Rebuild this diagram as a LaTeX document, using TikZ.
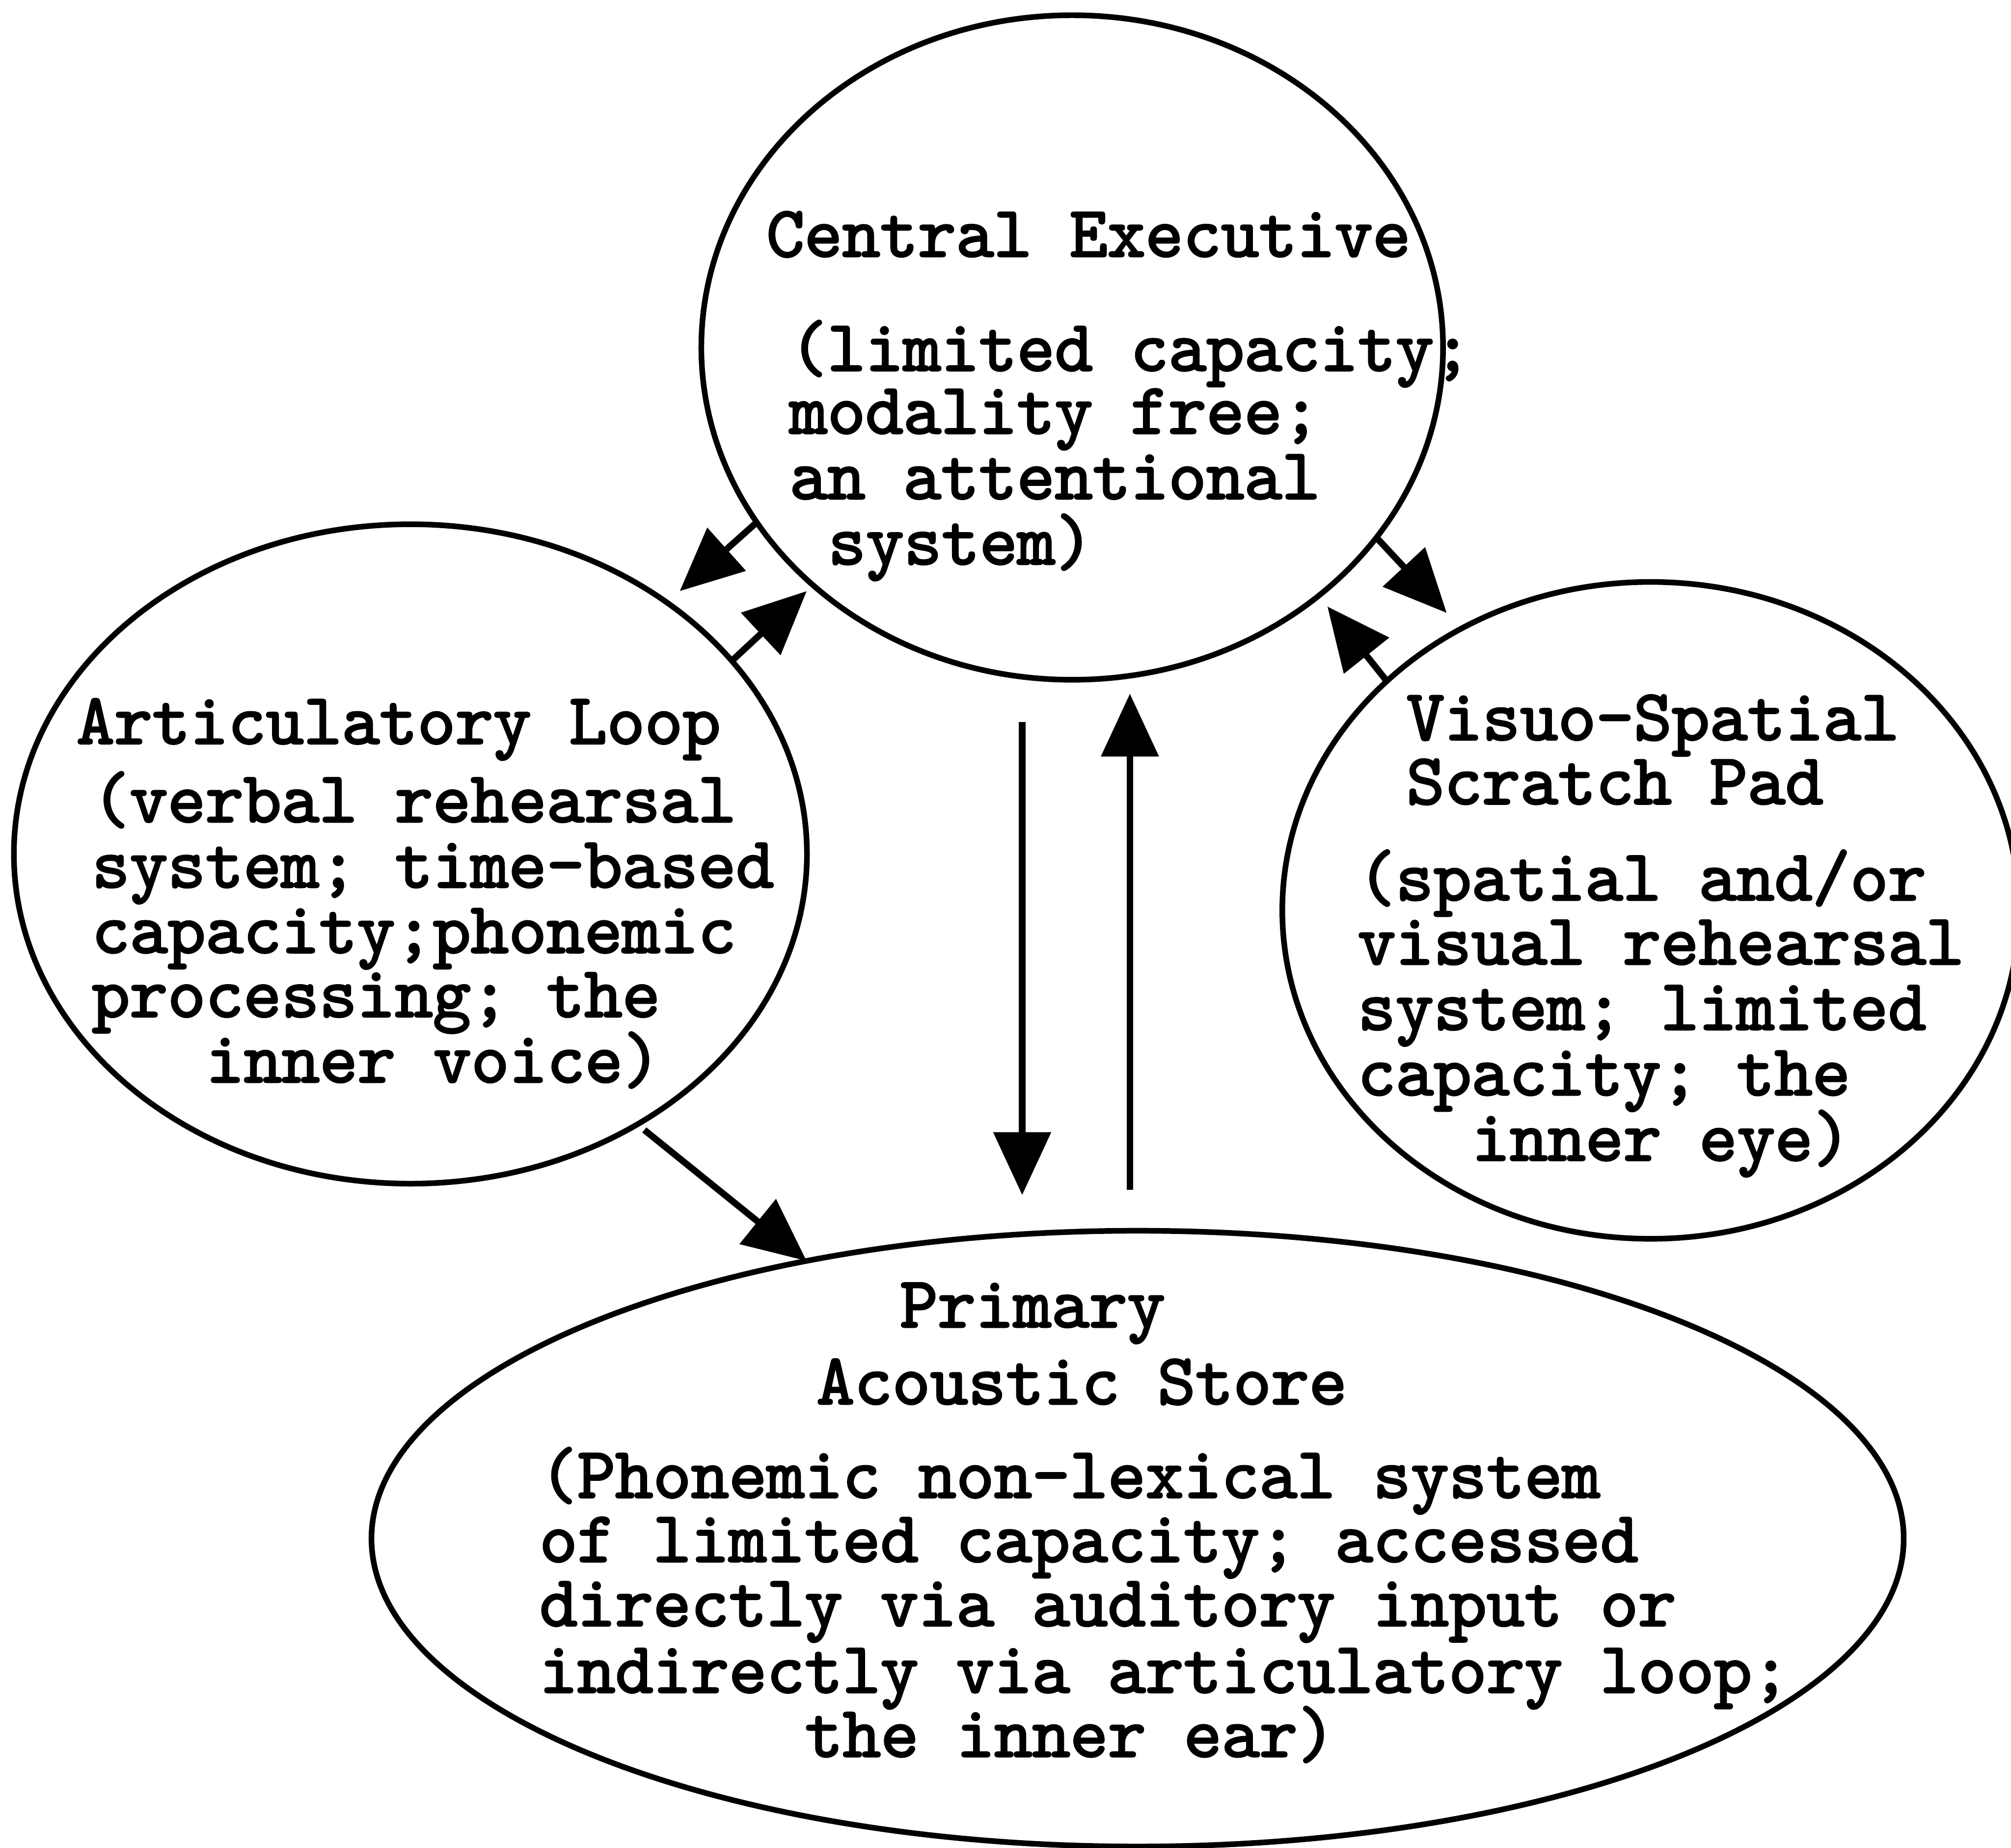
\documentclass[tikz,border=0pt]{standalone}
\usepackage{fontspec}
\newfontfamily\typefont{lmmono10-regular.otf}[FakeBold=2.5]
\usetikzlibrary{shapes.geometric,arrows.meta}
\begin{document}
\begin{tikzpicture}[x=0.01cm,y=-0.01cm,
  box/.style={ellipse,draw,line width=1.25pt,inner sep=0pt,outer sep=0pt},
  txt/.style={anchor=base west,inner sep=0pt,font=\typefont\fontsize{16}{17}\selectfont},
  arr/.style={line width=1.45pt,-{Triangle[length=0.49cm,width=0.44cm]}}]
\useasboundingbox (0,0) rectangle (1568,1441);
\fill[white] (0,0) rectangle (1568,1441);

% the four components
\node[box,minimum width=5.78cm,minimum height=5.18cm] (ce) at (836,271) {};
\node[box,minimum width=6.18cm,minimum height=5.14cm] (al) at (320,666) {};
\node[box,minimum width=5.74cm,minimum height=5.12cm] (vs) at (1287,710) {};
\node[box,minimum width=11.94cm,minimum height=4.8cm] (pas) at (887,1200) {};

% Central Executive
\node[txt] (ce-t) at (597,200) {Central Executive};
\node[txt] (ce-1) at (615,289) {(limited capacity;};
\node[txt] (ce-2) at (615,338) {modality free;};
\node[txt] (ce-3) at (615,389) {an attentional};
\node[txt] (ce-4) at (645,440) {system)};

% Articulatory Loop
\node[txt] (al-t) at (59,580) {Articulatory Loop};
\node[txt] (al-1) at (71,641) {(verbal rehearsal};
\node[txt] (al-2) at (71,692) {system; time-based};
\node[txt] (al-3) at (71,743) {capacity;phonemic};
\node[txt] (al-4) at (71,793) {processing; the};
\node[txt] (al-5) at (160,844) {inner voice)};

% Visuo-Spatial Scratch Pad
\node[txt] (vs-t1) at (1096,577) {Visuo-Spatial};
\node[txt] (vs-t2) at (1096,627) {Scratch Pad};
\node[txt] (vs-1) at (1058,702) {(spatial and/or};
\node[txt] (vs-2) at (1058,752) {visual rehearsal};
\node[txt] (vs-3) at (1058,803) {system; limited};
\node[txt] (vs-4) at (1058,854) {capacity; the};
\node[txt] (vs-5) at (1147,905) {inner eye)};

% Primary Acoustic Store
\node[txt] (pas-t1) at (701,1035) {Primary};
\node[txt] (pas-t2) at (636,1095) {Acoustic Store};
\node[txt] (pas-1) at (420,1168) {(Phonemic non-lexical system};
\node[txt] (pas-2) at (420,1218) {of limited capacity; accessed};
\node[txt] (pas-3) at (420,1268) {directly via auditory input or};
\node[txt] (pas-4) at (420,1320) {indirectly via articulatory loop;};
\node[txt] (pas-5) at (627,1370) {the inner ear)};

% free arrow ends
\coordinate (t1) at (530,461);
\coordinate (t2) at (629,461);
\coordinate (t3) at (1128,478);
\coordinate (t4) at (1035,473);
\coordinate (dn-s) at (797,563);
\coordinate (dn-e) at (797,932);
\coordinate (up-s) at (881,928);
\coordinate (up-e) at (881,541);

% connectors
\draw[arr] (ce.209.3) -- (t1);
\draw[arr] (al.31.4) -- (t2);
\draw[arr] (ce.328.5) -- (t3);
\draw[arr] (vs.139.5) -- (t4);
\draw[arr] (dn-s) -- (dn-e);
\draw[arr] (up-s) -- (up-e);
\draw[arr,shorten <=0.07cm] (al.310) -- (pas.140.6);
\end{tikzpicture}
\end{document}
